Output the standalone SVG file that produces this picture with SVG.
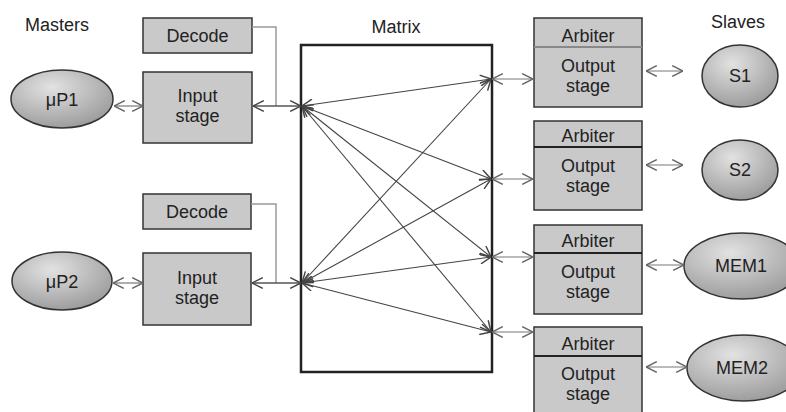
<svg xmlns="http://www.w3.org/2000/svg" width="786" height="412" viewBox="0 0 786 412">
<defs>
<radialGradient id="eg" cx="0.4" cy="0.3" r="0.8">
<stop offset="0" stop-color="#e2e2e2"/>
<stop offset="1" stop-color="#949494"/>
</radialGradient>
<marker id="ah" viewBox="0 0 10 10" refX="10" refY="5" markerWidth="12" markerHeight="12" markerUnits="userSpaceOnUse" orient="auto-start-reverse">
<path d="M1,0.5 L10,5 L1,9.5" fill="none" stroke="#444" stroke-width="1.2"/>
</marker>
<marker id="ahg" viewBox="0 0 10 10" refX="10" refY="5" markerWidth="12" markerHeight="12" markerUnits="userSpaceOnUse" orient="auto-start-reverse">
<path d="M1,0.5 L10,5 L1,9.5" fill="none" stroke="#666" stroke-width="1.2"/>
</marker>
</defs>
<style>
text{font-family:"Liberation Sans",Arial,sans-serif;font-size:18px;fill:#222}
.c{text-anchor:middle}
.box{fill:#c9c9c9;stroke:#333;stroke-width:1.5}
.ell{fill:url(#eg);stroke:#333;stroke-width:1.5}
.mx{fill:none;stroke:#222;stroke-width:2.5}
.ml{stroke:#444;stroke-width:1.1;fill:none;marker-start:url(#ah);marker-end:url(#ah)}
.hc{stroke:#555;stroke-width:1.3;fill:none;marker-start:url(#ah);marker-end:url(#ah)}
.gc{stroke:#777;stroke-width:1.2;fill:none;marker-start:url(#ahg);marker-end:url(#ahg)}
.dc{stroke:#999;stroke-width:1.5;fill:none}
.dv{stroke:#222;stroke-width:2}
</style>

<text x="25" y="31">Masters</text>
<text class="c" x="396" y="33">Matrix</text>
<text class="c" x="738" y="28">Slaves</text>

<g id="mp1"><ellipse class="ell" cx="62" cy="99" rx="51" ry="29"/><text class="c" x="62" y="106">μP1</text></g>
<g id="mp2"><ellipse class="ell" cx="62" cy="281" rx="50" ry="29"/><text class="c" x="62" y="288">μP2</text></g>

<g id="decode1"><rect class="box" x="143" y="18" width="109" height="35"/><text class="c" x="197.5" y="42">Decode</text></g>
<g id="input1"><rect class="box" x="143" y="72" width="109" height="71"/><text class="c" x="197.5" y="102">Input</text><text class="c" x="197.5" y="122">stage</text></g>
<g id="decode2"><rect class="box" x="143" y="194" width="108" height="35"/><text class="c" x="197" y="218">Decode</text></g>
<g id="input2"><rect class="box" x="143" y="253" width="108" height="72"/><text class="c" x="197" y="284">Input</text><text class="c" x="197" y="304">stage</text></g>

<g id="matrix"><rect class="mx" x="301" y="45" width="191" height="327"/></g>

<g id="out1"><rect class="box" x="534" y="18" width="108" height="89"/><line x1="534" y1="47" x2="642" y2="47" stroke="#888" stroke-width="2"/><text class="c" x="588" y="42">Arbiter</text><text class="c" x="588" y="72">Output</text><text class="c" x="588" y="92">stage</text></g>
<g id="out2"><rect class="box" x="534" y="121" width="108" height="89"/><line class="dv" x1="534" y1="147" x2="642" y2="147"/><text class="c" x="588" y="142">Arbiter</text><text class="c" x="588" y="172">Output</text><text class="c" x="588" y="192">stage</text></g>
<g id="out3"><rect class="box" x="534" y="225" width="108" height="89"/><line class="dv" x1="534" y1="253" x2="642" y2="253"/><text class="c" x="588" y="247">Arbiter</text><text class="c" x="588" y="278">Output</text><text class="c" x="588" y="298">stage</text></g>
<g id="out4"><rect class="box" x="534" y="327" width="108" height="95"/><line class="dv" x1="534" y1="356" x2="642" y2="356"/><text class="c" x="588" y="350">Arbiter</text><text class="c" x="588" y="380">Output</text><text class="c" x="588" y="400">stage</text></g>

<g id="s1"><ellipse class="ell" cx="740" cy="76" rx="38" ry="31"/><text class="c" x="740" y="82">S1</text></g>
<g id="s2"><ellipse class="ell" cx="740" cy="170" rx="38" ry="30"/><text class="c" x="740" y="176">S2</text></g>
<g id="mem1"><ellipse class="ell" cx="742" cy="266" rx="58" ry="33"/><text class="c" x="741" y="272">MEM1</text></g>
<g id="mem2"><ellipse class="ell" cx="744" cy="368" rx="57" ry="33"/><text class="c" x="742" y="374">MEM2</text></g>

<g id="connectors">
<line class="gc" x1="114" y1="106" x2="143" y2="106"/>
<line class="gc" x1="113" y1="283" x2="143" y2="283"/>
<path class="dc" d="M252,27 H276 V106"/>
<path class="dc" d="M251,204 H276 V283"/>
<line class="hc" x1="253" y1="106" x2="301" y2="106"/>
<line class="hc" x1="252" y1="283" x2="301" y2="283"/>
<line class="ml" x1="302" y1="106" x2="491" y2="79"/>
<line class="ml" x1="302" y1="106" x2="491" y2="179"/>
<line class="ml" x1="302" y1="106" x2="491" y2="257"/>
<line class="ml" x1="302" y1="106" x2="491" y2="332"/>
<line class="ml" x1="302" y1="283" x2="491" y2="79"/>
<line class="ml" x1="302" y1="283" x2="491" y2="179"/>
<line class="ml" x1="302" y1="283" x2="491" y2="257"/>
<line class="ml" x1="302" y1="283" x2="491" y2="332"/>
<line class="gc" x1="492" y1="79" x2="533" y2="79"/>
<line class="gc" x1="492" y1="179" x2="533" y2="179"/>
<line class="gc" x1="492" y1="257" x2="533" y2="257"/>
<line class="gc" x1="492" y1="332" x2="533" y2="332"/>
<line class="gc" x1="646" y1="71" x2="683" y2="71"/>
<line class="gc" x1="646" y1="165" x2="683" y2="165"/>
<line class="gc" x1="646" y1="265" x2="684" y2="265"/>
<line class="gc" x1="646" y1="367" x2="687" y2="367"/>
</g>
</svg>
